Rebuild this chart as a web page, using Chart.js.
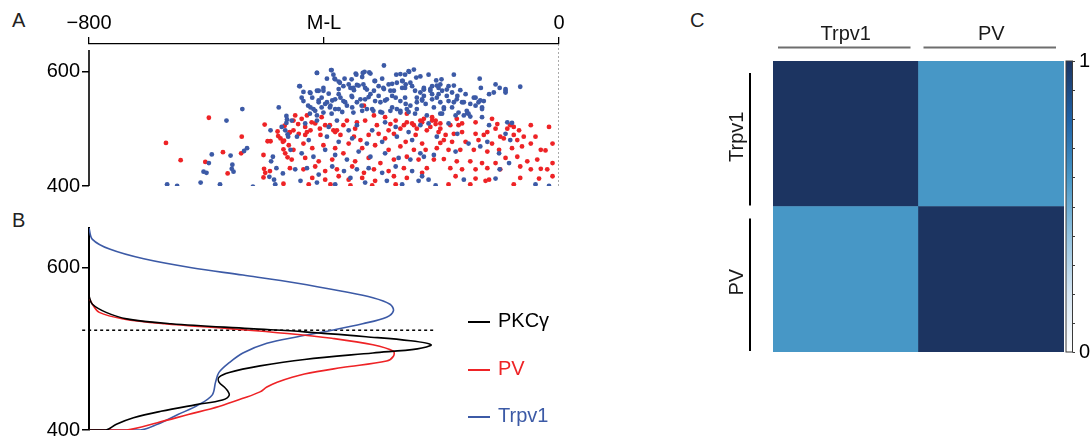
<!DOCTYPE html>
<html>
<head>
<meta charset="utf-8">
<script src="https://cdn.jsdelivr.net/npm/chart.js@4.4.1/dist/chart.umd.min.js"></script>
<style>
  body { margin: 0; background: #fff; width: 1091px; height: 444px; position: relative; overflow: hidden;
         font-family: 'Liberation Sans', Arial, sans-serif; }
  canvas { position: absolute; }
  .panel { position: absolute; font-size: 20px; line-height: 1; color: #222; }
  .legend-item { position: absolute; left: 468px; height: 20px; font-size: 20px; line-height: 1; }
  .legend-item .swatch { position: absolute; left: 0; width: 22px; height: 2px; }
  .legend-item .text { position: absolute; left: 30px; top: 0; white-space: nowrap; }
</style>
</head>
<body>
<div class="panel" style="left:12px;top:10px">A</div>
<div class="panel" style="left:12px;top:210px">B</div>
<div class="panel" style="left:690px;top:10px">C</div>
<canvas id="chartA" width="600" height="200" style="left:0;top:0"></canvas>
<canvas id="chartB" width="600" height="244" style="left:0;top:200px"></canvas>
<canvas id="chartC" width="411" height="444" style="left:680px;top:0"></canvas>
<div id="legendB"></div>
<script>
// ----- panel A: cell positions (M-L, depth) -----
const mlTickValues = [-800, -400, 0];
const mlTickLabels = ['\u2212800', 'M-L', '0'];
const depthTicks = [400, 600];

const trpv1Cells = [
  [-539,534],[-477,537],[-566,514],[-464,522],[-463,516],[-464,510],[-472,503],[-466,497],[-491,497],[-462,490],
  [-461,486],[-531,466],[-536,461],[-591,455],[-596,440],[-559,453],[-556,437],[-557,430],[-554,425],[-605,425],
  [-600,423],[-487,451],[-490,443],[-481,431],[-493,416],[-485,411],[-483,403],[-667,403],[-650,400],[-610,406],
  [-577,403],[-521,399],[-470,422],
  [-298,610],[-388,602],[-412,597],[-346,596],[-331,599],[-321,596],[-270,595],[-255,599],[-247,603],[-382,587],
  [-375,582],[-395,587],[-365,587],[-335,590],[-314,583],[-301,587],[-284,578],[-266,583],[-261,577],[-243,589],
  [-236,591],[-442,574],[-435,564],[-423,562],[-409,566],[-401,571],[-392,561],[-375,569],[-355,571],[-344,576],
  [-349,567],[-330,571],[-315,566],[-298,569],[-281,566],[-267,571],[-250,574],[-230,569],[-438,554],[-420,554],
  [-409,549],[-398,543],[-386,549],[-372,554],[-364,546],[-352,555],[-338,551],[-324,555],[-307,557],[-296,549],
  [-278,554],[-261,543],[-242,554],[-233,549],[-423,537],[-415,531],[-404,537],[-389,540],[-381,534],[-369,529],
  [-352,537],[-335,531],[-318,534],[-304,529],[-284,537],[-270,531],[-256,529],[-242,534],
  [-455,514],[-432,509],[-412,514],[-392,503],[-378,514],[-358,497],[-344,506],[-318,497],[-296,511],[-278,503],
  [-256,494],[-236,506],[-446,486],[-426,480],[-395,486],[-375,477],[-352,483],[-327,474],[-301,477],[-276,486],
  [-250,480],[-457,463],[-438,457],[-418,451],[-398,463],[-381,454],[-361,446],[-341,460],[-321,451],[-296,457],
  [-273,449],[-253,446],[-236,457],[-449,429],[-429,431],[-409,420],[-386,434],[-366,426],[-344,429],[-324,431],
  [-301,423],[-278,434],[-250,426],[-440,409],[-412,406],[-381,403],[-355,414],[-330,406],[-293,409],[-267,403],
  [-239,409],
  [-222,594],[-179,594],[-135,587],[-209,584],[-200,586],[-188,574],[-179,575],[-230,571],[-219,569],[-205,571],
  [-199,566],[-182,563],[-168,567],[-133,571],[-101,571],[-91,569],[-66,573],[-230,557],[-216,560],[-208,554],
  [-191,557],[-173,557],[-159,560],[-142,554],[-119,560],[-111,563],[-91,563],[-227,543],[-213,537],[-196,537],
  [-179,546],[-162,546],[-151,543],[-134,549],[-131,537],[-225,523],[-202,526],[-176,523],[-156,527],[-151,521],
  [-131,520],[-222,509],[-188,509],[-88,511],[-80,510],[-119,506],[-173,491],[-154,474],[-122,477],[-91,491],
  [-83,480],[-208,486],[-230,451],[-213,454],[-176,460],[-134,469],[-102,457],[-85,440],[-101,429],[-233,417],
  [-222,411],[-162,411],[-108,413],[-210,401],[-17,400],[-40,403],
  [-412,597],[-387,602],[-384,594],[-334,597],[-323,598],[-345,594],[-277,594],[-262,594],[-256,600],[-441,574],
  [-424,563],[-412,566],[-401,566],[-381,586],[-373,580],[-367,574],[-358,577],[-353,586],[-350,571],[-341,575],
  [-333,577],[-327,568],[-313,583],[-307,574],[-299,571],[-290,577],[-287,566],[-276,580],[-267,583],[-262,571],
  [-253,580],[-245,566],[-236,563],[-230,568],[-435,548],[-427,540],[-418,534],[-409,546],[-404,554],[-395,546],
  [-390,537],[-381,551],[-375,560],[-367,548],[-361,540],[-353,557],[-344,546],[-336,540],[-330,551],[-321,560],
  [-313,548],[-304,546],[-293,551],[-284,557],[-276,534],[-270,548],[-262,554],[-253,540],[-242,546],[-233,551],
  [-424,526],[-412,523],[-401,528],[-387,526],[-375,534],[-350,528],[-327,534],[-316,531],[-301,528],[-287,531],
  [-270,528],[-259,534],[-245,526],
  [-216,574],[-208,575],[-202,577],[-219,566],[-205,560],[-191,568],[-108,577],[-91,566],[-216,551],[-202,546],
  [-188,548],[-174,551],[-165,546],[-145,554],[-137,546],[-128,548],[-196,534],[-182,537],[-171,528],[-157,531],
  [-142,540],[-131,534],[-199,526],[-162,523],[-154,526]
];

const pvCells = [
  [-596,519],[-669,475],[-644,445],[-602,442],[-572,459],[-540,486],[-541,457],[-564,422],[-501,507],[-479,495],
  [-467,505],[-459,493],[-496,478],[-491,478],[-478,487],[-474,483],[-470,477],[-468,479],[-469,464],[-466,457],
  [-462,450],[-503,454],[-502,430],[-500,423],[-503,415],[-492,426],[-469,404],
  [-449,523],[-438,517],[-429,523],[-415,509],[-404,520],[-398,506],[-384,497],[-367,506],[-361,514],[-347,500],
  [-332,540],[-330,514],[-315,523],[-310,506],[-296,520],[-290,497],[-278,514],[-264,506],[-259,526],[-250,509],
  [-242,500],[-233,511],[-458,494],[-443,491],[-432,489],[-423,497],[-406,489],[-381,494],[-372,489],[-349,486],
  [-338,480],[-324,489],[-307,491],[-296,483],[-281,491],[-261,477],[-244,489],[-460,471],[-452,463],[-435,474],
  [-420,466],[-401,471],[-381,466],[-358,474],[-335,466],[-313,471],[-290,463],[-270,469],[-247,463],[-233,474],
  [-455,446],[-432,449],[-409,443],[-386,446],[-367,457],[-347,443],[-324,449],[-304,440],[-281,446],[-259,451],
  [-239,446],[-458,431],[-435,429],[-415,434],[-398,426],[-378,429],[-352,434],[-332,423],[-315,429],[-290,426],
  [-264,431],[-420,414],[-398,411],[-375,417],[-358,411],[-335,414],[-313,409],[-281,417],[-259,414],[-233,423],
  [-426,403],[-389,403],[-355,401],[-318,401],[-278,403],
  [-230,517],[-216,520],[-210,514],[-202,509],[-185,506],[-165,509],[-174,517],[-142,511],[-122,494],[-108,500],
  [-83,506],[-68,497],[-48,506],[-17,503],[-225,497],[-205,494],[-193,489],[-179,491],[-165,494],[-142,491],
  [-128,489],[-100,486],[-77,489],[-60,486],[-40,486],[-196,480],[-202,475],[-182,477],[-159,477],[-137,480],
  [-114,474],[-94,483],[-71,480],[-48,474],[-11,474],[-227,463],[-208,466],[-188,463],[-168,463],[-145,463],
  [-122,460],[-102,463],[-80,466],[-63,469],[-31,463],[-23,462],[-213,446],[-196,447],[-174,443],[-151,443],
  [-131,440],[-108,440],[-91,449],[-71,451],[-54,443],[-37,446],[-11,440],[-225,431],[-185,431],[-165,429],
  [-142,429],[-122,431],[-100,429],[-66,434],[-48,429],[-31,430],[-20,429],[-176,417],[-142,413],[-119,411],
  [-66,414],[-34,413],[-11,417],[-188,403],[-151,403],[-125,409],[-77,403],
  [-216,514],[-210,508],[-219,503],[-202,500],[-171,506],[-114,517],[-105,508],[-88,500],[-77,503],
  [-452,514],[-444,508],[-432,503],[-421,511],[-407,500],[-390,506],[-378,497],[-344,511],[-287,508],[-270,500],
  [-259,511],[-247,506],[-236,514],[-452,497],[-429,494]
];

// ----- panel B: depth distributions (density vs depth) -----
const curveNames = ['PKC\u03b3', 'PV', 'Trpv1'];
const pkcDepth   = [565, 555, 545, 537, 531, 525, 521, 515, 510, 505, 500, 495, 487, 479, 471, 465, 459, 451, 443, 437, 431, 423, 415, 407, 400, 400];
const pkcDensity = [0.00, 0.01, 0.05, 0.11, 0.24, 0.47, 0.63, 0.81, 0.94, 1.00, 0.96, 0.83, 0.63, 0.50, 0.41, 0.38, 0.38, 0.40, 0.41, 0.39, 0.31, 0.21, 0.13, 0.08, 0.05, 0];
const pvDepth    = [563, 555, 545, 537, 531, 525, 519, 513, 505, 497, 491, 485, 477, 469, 459, 453, 447, 439, 429, 419, 409, 400, 400];
const pvDensity  = [0.00, 0.01, 0.03, 0.10, 0.22, 0.41, 0.58, 0.71, 0.83, 0.89, 0.89, 0.87, 0.74, 0.63, 0.55, 0.52, 0.50, 0.45, 0.38, 0.29, 0.20, 0.11, 0];
const trpDepth   = [649, 635, 623, 611, 600, 591, 581, 571, 563, 555, 547, 539, 531, 523, 515, 507, 495, 483, 471, 459, 443, 431, 419, 407, 400, 400];
const trpDensity = [0.00, 0.01, 0.06, 0.16, 0.30, 0.45, 0.61, 0.74, 0.83, 0.88, 0.89, 0.87, 0.80, 0.71, 0.61, 0.52, 0.45, 0.41, 0.38, 0.37, 0.36, 0.32, 0.26, 0.20, 0.15, 0];
const boundaryDepth = 523;

// ----- panel C: correlation matrix -----
const corrLabels = ['Trpv1', 'PV'];
const corrValues = [[1, 0.6], [0.6, 1]];

const BLUE = '#3c5aa6';
const RED = '#ee2326';
const FONT = "'Liberation Sans', Arial, sans-serif";
Chart.defaults.font.family = FONT;
Chart.defaults.color = '#000';

const colorStops = [[0, '#ffffff'], [0.2, '#d6e6f3'], [0.4, '#92c2df'], [0.6, '#4797c6'], [0.8, '#1f62a6'], [1, '#1c3461']];
const hex = h => [1, 3, 5].map(i => parseInt(h.slice(i, i + 2), 16));
function cellColor(v) {
    for (let i = 1; i < colorStops.length; i++) {
        const [v0, c0] = colorStops[i - 1], [v1, c1] = colorStops[i];
        if (v <= v1) {
            const t = (v - v0) / (v1 - v0), a = hex(c0), b = hex(c1);
            return 'rgb(' + a.map((x, k) => Math.round(x + (b[k] - x) * t)).join(',') + ')';
        }
    }
    return colorStops[colorStops.length - 1][1];
}

// y axis line of panel A stops short of the top axis
const yAxisLine = top => ({
    id: 'yAxisLine',
    afterDraw(chart) {
        const { ctx, chartArea, scales: { y } } = chart;
        ctx.save();
        ctx.strokeStyle = '#000';
        ctx.lineWidth = 1.6;
        ctx.beginPath();
        ctx.moveTo(chartArea.left, y.getPixelForValue(top));
        ctx.lineTo(chartArea.left, y.getPixelForValue(400));
        ctx.stroke();
        ctx.restore();
    }
});

const depthAxis = (max) => ({
    min: 400, max: max,
    afterBuildTicks: s => { s.ticks = depthTicks.map(v => ({ value: v })); },
    ticks: { font: { size: 20 }, padding: 2, color: '#000' },
    grid: { drawOnChartArea: false, tickLength: 7, color: '#000', lineWidth: 1.5 },
    afterFit: s => { s.width = 89; }
});

// panel A scatter
new Chart(document.getElementById('chartA'), {
    type: 'scatter',
    data: {
        datasets: [
            { type: 'line', data: [{ x: 0, y: 400 }, { x: 0, y: 647.5 }], borderColor: '#555', borderWidth: 1,
              borderDash: [2, 2], pointRadius: 0 },
            { data: trpv1Cells.map(p => ({ x: p[0], y: p[1] })), backgroundColor: BLUE, pointRadius: 2.4, borderWidth: 0 },
            { data: pvCells.map(p => ({ x: p[0], y: p[1] })), backgroundColor: RED, pointRadius: 2.4, borderWidth: 0 }
        ]
    },
    options: {
        responsive: false, animation: false,
        layout: { padding: { left: 0, right: 41, top: 0, bottom: 12 } },
        plugins: { legend: { display: false }, tooltip: { enabled: false } },
        scales: {
            x: {
                type: 'linear', position: 'top', min: -800, max: 0,
                afterBuildTicks: s => { s.ticks = mlTickValues.map(v => ({ value: v })); },
                ticks: { callback: v => mlTickLabels[mlTickValues.indexOf(v)], font: { size: 20 }, padding: 2, maxRotation: 0, color: '#000' },
                grid: { drawOnChartArea: false, tickLength: 7, color: '#000', lineWidth: 1.3 },
                border: { color: '#000', width: 1.3 },
                afterFit: s => { s.height = 44; }
            },
            y: Object.assign(depthAxis(647.5), { border: { display: false } })
        }
    },
    plugins: [yAxisLine(637)]
});

// panel B density curves
const curve = (xs, ys, color) => ({
    data: xs.map((x, i) => ({ x: x, y: ys[i] })), showLine: true, borderColor: color, borderWidth: 1.6,
    pointRadius: 0, tension: 0.35, fill: false
});
const curveColors = ['#000', RED, BLUE];
new Chart(document.getElementById('chartB'), {
    type: 'scatter',
    data: {
        datasets: [
            curve(pkcDensity, pkcDepth, curveColors[0]),
            curve(pvDensity, pvDepth, curveColors[1]),
            curve(trpDensity, trpDepth, curveColors[2]),
            { data: [{ x: -0.02, y: boundaryDepth }, { x: 1.01, y: boundaryDepth }], showLine: true, borderColor: '#000',
              borderWidth: 1.5, borderDash: [3, 3], pointRadius: 0, clip: false }
        ]
    },
    options: {
        responsive: false, animation: false,
        layout: { padding: { left: 0, right: 40, top: 28, bottom: 8 } },
        plugins: { legend: { display: false }, tooltip: { enabled: false } },
        scales: {
            x: { type: 'linear', min: 0, max: 1.377, display: false },
            y: Object.assign(depthAxis(649), { border: { color: '#000', width: 2 } })
        }
    }
});

// legend for panel B
const legendB = document.getElementById('legendB');
curveNames.forEach((name, i) => {
    const item = document.createElement('div');
    item.className = 'legend-item';
    item.style.top = (310 + i * 47.5) + 'px';
    item.innerHTML = `<span class="swatch" style="top:11px;background:${curveColors[i]}"></span>` +
        `<span class="text" style="color:${curveColors[i]}">${name}</span>`;
    legendB.appendChild(item);
});

// panel C: heatmap decorations (colour bar, brackets, row labels)
const heatmapDecor = {
    id: 'heatmapDecor',
    afterDraw(chart) {
        const { ctx, chartArea, scales: { x, y, y2 } } = chart;
        ctx.save();
        // colour bar
        const x0 = chartArea.right + 2, w = 6.5;
        const yt = y2.getPixelForValue(1), yb = y2.getPixelForValue(0);
        const grad = ctx.createLinearGradient(0, yb, 0, yt);
        colorStops.forEach(([v, c]) => grad.addColorStop(v, c));
        ctx.fillStyle = grad;
        ctx.fillRect(x0, yt, w, yb - yt);
        ctx.strokeStyle = '#3a3a3a';
        ctx.lineWidth = 1;
        ctx.strokeRect(x0, yt, w, yb - yt);
        y2.ticks.forEach(t => {
            const py = Math.round(y2.getPixelForValue(t.value)) + 0.5;
            ctx.beginPath();
            ctx.moveTo(x0 + w, py);
            ctx.lineTo(x0 + w + 2.5, py);
            ctx.stroke();
        });
        // column brackets on top
        const colW = x.getPixelForValue(1) - x.getPixelForValue(0);
        ctx.strokeStyle = '#6e6e6e';
        ctx.lineWidth = 2;
        corrLabels.forEach((_, i) => {
            const cx = x.getPixelForValue(i);
            ctx.beginPath();
            ctx.moveTo(cx - colW / 2 + 5, chartArea.top - 13.5);
            ctx.lineTo(cx + colW / 2 - 8, chartArea.top - 13.5);
            ctx.stroke();
        });
        // row brackets and labels on the left
        ctx.strokeStyle = '#000';
        ctx.fillStyle = '#1a1a1a';
        ctx.font = '20px ' + FONT;
        ctx.textAlign = 'center';
        ctx.textBaseline = 'middle';
        corrLabels.forEach((name, r) => {
            const top = y.getPixelForValue(corrLabels.length - r), bot = y.getPixelForValue(corrLabels.length - r - 1);
            ctx.beginPath();
            ctx.moveTo(chartArea.left - 23, top + 12);
            ctx.lineTo(chartArea.left - 23, bot - 1);
            ctx.stroke();
            ctx.save();
            ctx.translate(chartArea.left - 36, (top + bot) / 2 + 3);
            ctx.rotate(-Math.PI / 2);
            ctx.fillText(name, 0, 0);
            ctx.restore();
        });
        ctx.restore();
    }
};

new Chart(document.getElementById('chartC'), {
    type: 'bar',
    data: {
        labels: corrLabels,
        datasets: corrLabels.map((row, r) => ({
            label: row, data: corrLabels.map(() => 1), backgroundColor: corrValues[r].map(cellColor),
            barPercentage: 1, categoryPercentage: 1, borderWidth: 0
        })).reverse()
    },
    options: {
        responsive: false, animation: false,
        layout: { padding: { left: 93, right: 0, top: 0, bottom: 92 } },
        plugins: { legend: { display: false }, tooltip: { enabled: false } },
        scales: {
            x: {
                stacked: true, position: 'top',
                grid: { display: false, drawTicks: false }, border: { display: false },
                ticks: { font: { size: 20 }, padding: 15, color: '#1a1a1a' },
                afterFit: s => { s.height = 61; }
            },
            y: { stacked: true, min: 0, max: 2, display: false },
            y2: {
                type: 'linear', position: 'right', min: 0, max: 1,
                ticks: { stepSize: 0.1, autoSkip: false, font: { size: 20 }, padding: 3, color: '#000',
                         callback: v => (v === 0 || v === 1) ? String(v) : '' },
                grid: { drawOnChartArea: false, drawTicks: true, tickLength: 12, color: 'rgba(0,0,0,0)' },
                border: { display: false },
                afterFit: s => { s.width = 27; }
            }
        }
    },
    plugins: [heatmapDecor]
});
</script>
</body>
</html>
